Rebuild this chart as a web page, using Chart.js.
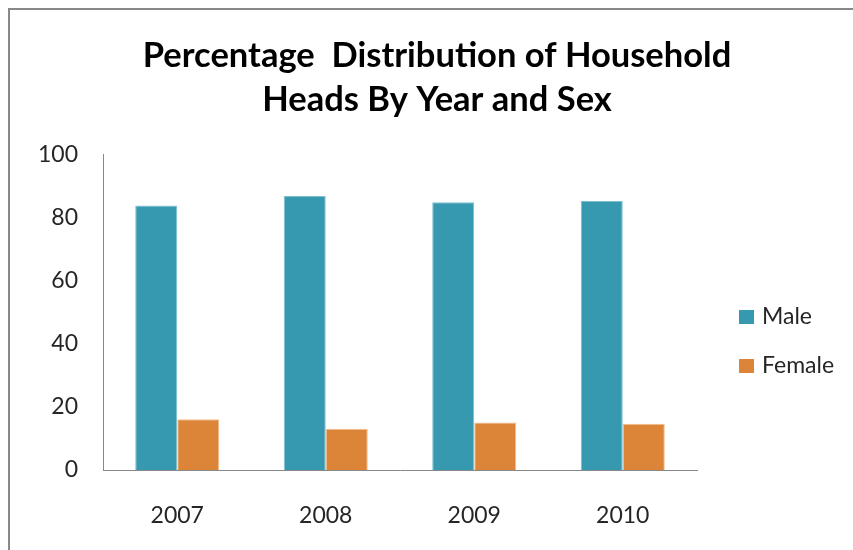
<!DOCTYPE html>
<html>
<head>
<meta charset="utf-8">
<title>Household Heads by Year and Sex</title>
<script src="https://cdn.jsdelivr.net/npm/chart.js@4"></script>
<style>
  html, body { margin: 0; padding: 0; background: #fff; }
  #wrap { width: 853px; height: 550px; }
</style>
</head>
<body>
<div id="wrap"><canvas id="headsChart" width="853" height="550"></canvas></div>
<script>
const years = ["2007", "2008", "2009", "2010"];
const maleShare = [83.9, 86.9, 84.9, 85.3];
const femaleShare = [16.1, 13.1, 15.1, 14.7];
const yTicks = [0, 20, 40, 60, 80, 100];

const FONT = "Lato, 'Open Sans', sans-serif";
const TEXT = "#262626";

// grey frame round the chart, open to the right and bottom
const framePlugin = {
  id: "frame",
  beforeDraw(chart) {
    const ctx = chart.ctx;
    ctx.save();
    ctx.strokeStyle = "#888888";
    ctx.lineWidth = 2;
    ctx.beginPath();
    ctx.moveTo(9, chart.height);
    ctx.lineTo(9, 9);
    ctx.lineTo(chart.width, 9);
    ctx.stroke();
    ctx.restore();
  }
};

// legend to the right of the plot, squares + labels
const sideLegend = {
  id: "sideLegend",
  afterDraw(chart) {
    const ctx = chart.ctx;
    const x = chart.chartArea.right + 42;
    ctx.save();
    ctx.font = "23px " + FONT;
    ctx.textBaseline = "middle";
    ctx.textAlign = "left";
    chart.data.datasets.forEach((ds, i) => {
      const cy = 317 + i * 49;
      ctx.fillStyle = ds.backgroundColor;
      ctx.fillRect(x, cy - 7, 15, 14);
      ctx.fillStyle = TEXT;
      ctx.fillText(ds.label, x + 23, cy);
    });
    ctx.restore();
  }
};

new Chart(document.getElementById("headsChart"), {
  type: "bar",
  data: {
    labels: years,
    datasets: [
      {
        label: "Male",
        data: maleShare,
        backgroundColor: "#3799B0",
        borderColor: "#7CBFCF",
        borderWidth: 1,
        categoryPercentage: 0.566,
        barPercentage: 1
      },
      {
        label: "Female",
        data: femaleShare,
        backgroundColor: "#DC8437",
        borderColor: "#F2BE90",
        borderWidth: 1,
        categoryPercentage: 0.566,
        barPercentage: 1
      }
    ]
  },
  options: {
    responsive: false,
    animation: false,
    layout: { padding: { left: 21, top: 0, right: 0, bottom: 0 } },
    plugins: {
      legend: { display: false },
      tooltip: { enabled: false },
      title: {
        display: true,
        text: ["Percentage  Distribution of Household", "Heads By Year and Sex"],
        color: "#000",
        font: { family: FONT, size: 34.5, weight: "bold", lineHeight: 1.3 },
        padding: { top: 33, bottom: 32 }
      }
    },
    scales: {
      x: {
        grid: { display: false },
        border: { display: true, color: "#888888", width: 1 },
        ticks: { color: TEXT, font: { family: FONT, size: 23 }, padding: 24 },
        afterFit(scale) { scale.height = 80; }
      },
      y: {
        min: 0,
        max: 100,
        grid: { display: false },
        border: { display: true, color: "#888888", width: 1 },
        afterBuildTicks(scale) { scale.ticks = yTicks.map(v => ({ value: v })); },
        ticks: { color: TEXT, font: { family: FONT, size: 23 }, padding: 17 },
        afterFit(scale) { scale.width = 82; }
      },
      // empty right-hand scale keeps room for the legend
      side: {
        type: "linear",
        position: "right",
        display: true,
        grid: { display: false },
        border: { display: false },
        ticks: { display: false },
        afterFit(scale) { scale.width = 156; }
      }
    }
  },
  plugins: [framePlugin, sideLegend]
});
</script>
</body>
</html>
